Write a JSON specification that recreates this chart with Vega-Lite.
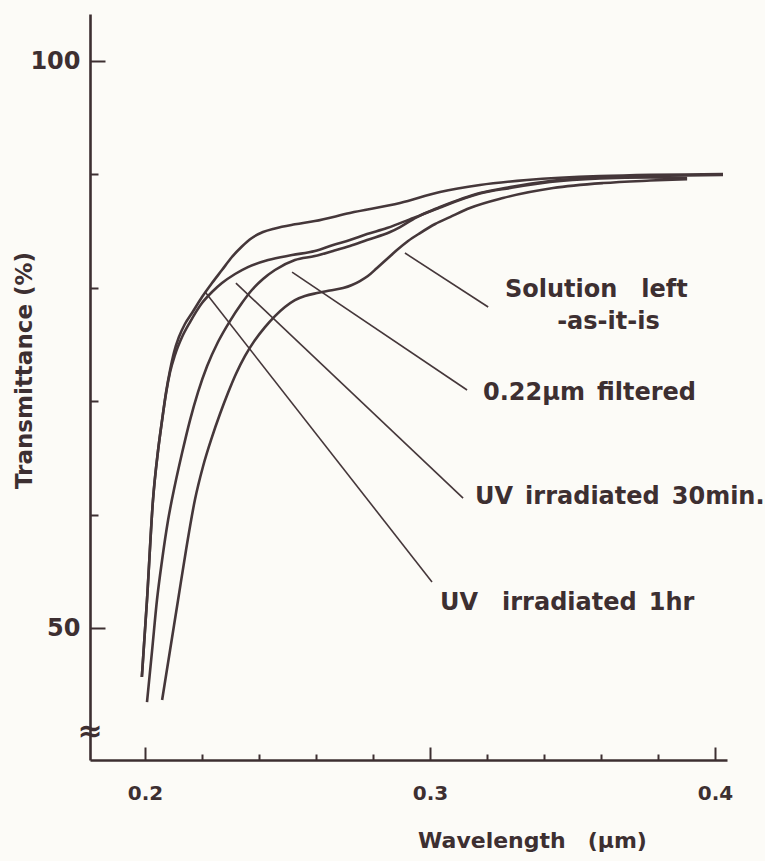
{
  "$schema": "https://vega.github.io/schema/vega-lite/v6.json",
  "width": 637,
  "height": 746,
  "autosize": {"type": "none"},
  "padding": {"left": 90, "top": 14, "right": 38, "bottom": 101},
  "background": "#fcfbf7",
  "config": {"view": {"stroke": null}, "font": "DejaVu Sans"},
  "datasets": {
    "curves": [
      {"series": "UV irradiated 1hr", "wavelength": 0.1989, "T": 45.68},
      {"series": "UV irradiated 1hr", "wavelength": 0.2007, "T": 52.47},
      {"series": "UV irradiated 1hr", "wavelength": 0.2028, "T": 61.29},
      {"series": "UV irradiated 1hr", "wavelength": 0.2046, "T": 65.70},
      {"series": "UV irradiated 1hr", "wavelength": 0.2060, "T": 68.34},
      {"series": "UV irradiated 1hr", "wavelength": 0.2074, "T": 70.81},
      {"series": "UV irradiated 1hr", "wavelength": 0.2088, "T": 72.75},
      {"series": "UV irradiated 1hr", "wavelength": 0.2102, "T": 74.34},
      {"series": "UV irradiated 1hr", "wavelength": 0.2119, "T": 75.66},
      {"series": "UV irradiated 1hr", "wavelength": 0.2140, "T": 76.81},
      {"series": "UV irradiated 1hr", "wavelength": 0.2165, "T": 77.78},
      {"series": "UV irradiated 1hr", "wavelength": 0.2200, "T": 79.19},
      {"series": "UV irradiated 1hr", "wavelength": 0.2235, "T": 80.42},
      {"series": "UV irradiated 1hr", "wavelength": 0.2270, "T": 81.57},
      {"series": "UV irradiated 1hr", "wavelength": 0.2305, "T": 82.72},
      {"series": "UV irradiated 1hr", "wavelength": 0.2340, "T": 83.65},
      {"series": "UV irradiated 1hr", "wavelength": 0.2375, "T": 84.40},
      {"series": "UV irradiated 1hr", "wavelength": 0.2414, "T": 84.92},
      {"series": "UV irradiated 1hr", "wavelength": 0.2456, "T": 85.24},
      {"series": "UV irradiated 1hr", "wavelength": 0.2526, "T": 85.60},
      {"series": "UV irradiated 1hr", "wavelength": 0.2596, "T": 85.89},
      {"series": "UV irradiated 1hr", "wavelength": 0.2719, "T": 86.60},
      {"series": "UV irradiated 1hr", "wavelength": 0.2895, "T": 87.48},
      {"series": "UV irradiated 1hr", "wavelength": 0.3035, "T": 88.45},
      {"series": "UV irradiated 1hr", "wavelength": 0.3175, "T": 89.07},
      {"series": "UV irradiated 1hr", "wavelength": 0.3340, "T": 89.51},
      {"series": "UV irradiated 1hr", "wavelength": 0.3596, "T": 89.86},
      {"series": "UV irradiated 1hr", "wavelength": 0.4028, "T": 90.04},

      {"series": "UV irradiated 30min.", "wavelength": 0.1989, "T": 45.68},
      {"series": "UV irradiated 30min.", "wavelength": 0.2007, "T": 52.47},
      {"series": "UV irradiated 30min.", "wavelength": 0.2028, "T": 61.29},
      {"series": "UV irradiated 30min.", "wavelength": 0.2046, "T": 65.70},
      {"series": "UV irradiated 30min.", "wavelength": 0.2060, "T": 68.34},
      {"series": "UV irradiated 30min.", "wavelength": 0.2074, "T": 70.72},
      {"series": "UV irradiated 30min.", "wavelength": 0.2088, "T": 72.57},
      {"series": "UV irradiated 30min.", "wavelength": 0.2105, "T": 74.07},
      {"series": "UV irradiated 30min.", "wavelength": 0.2130, "T": 75.66},
      {"series": "UV irradiated 30min.", "wavelength": 0.2158, "T": 76.98},
      {"series": "UV irradiated 30min.", "wavelength": 0.2200, "T": 78.66},
      {"series": "UV irradiated 30min.", "wavelength": 0.2235, "T": 79.63},
      {"series": "UV irradiated 30min.", "wavelength": 0.2270, "T": 80.42},
      {"series": "UV irradiated 30min.", "wavelength": 0.2316, "T": 81.22},
      {"series": "UV irradiated 30min.", "wavelength": 0.2361, "T": 81.83},
      {"series": "UV irradiated 30min.", "wavelength": 0.2432, "T": 82.45},
      {"series": "UV irradiated 30min.", "wavelength": 0.2516, "T": 82.89},
      {"series": "UV irradiated 30min.", "wavelength": 0.2596, "T": 83.25},
      {"series": "UV irradiated 30min.", "wavelength": 0.2660, "T": 83.78},
      {"series": "UV irradiated 30min.", "wavelength": 0.2719, "T": 84.22},
      {"series": "UV irradiated 30min.", "wavelength": 0.2779, "T": 84.74},
      {"series": "UV irradiated 30min.", "wavelength": 0.2849, "T": 85.27},
      {"series": "UV irradiated 30min.", "wavelength": 0.2895, "T": 85.71},
      {"series": "UV irradiated 30min.", "wavelength": 0.2951, "T": 86.24},
      {"series": "UV irradiated 30min.", "wavelength": 0.3035, "T": 87.13},
      {"series": "UV irradiated 30min.", "wavelength": 0.3175, "T": 88.36},
      {"series": "UV irradiated 30min.", "wavelength": 0.3281, "T": 88.89},
      {"series": "UV irradiated 30min.", "wavelength": 0.3421, "T": 89.42},
      {"series": "UV irradiated 30min.", "wavelength": 0.3596, "T": 89.73},
      {"series": "UV irradiated 30min.", "wavelength": 0.3772, "T": 89.86},
      {"series": "UV irradiated 30min.", "wavelength": 0.4028, "T": 89.95},

      {"series": "0.22µm filtered", "wavelength": 0.2007, "T": 43.47},
      {"series": "0.22µm filtered", "wavelength": 0.2025, "T": 48.06},
      {"series": "0.22µm filtered", "wavelength": 0.2042, "T": 52.47},
      {"series": "0.22µm filtered", "wavelength": 0.2060, "T": 56.00},
      {"series": "0.22µm filtered", "wavelength": 0.2081, "T": 59.52},
      {"series": "0.22µm filtered", "wavelength": 0.2105, "T": 62.61},
      {"series": "0.22µm filtered", "wavelength": 0.2130, "T": 65.43},
      {"series": "0.22µm filtered", "wavelength": 0.2158, "T": 68.34},
      {"series": "0.22µm filtered", "wavelength": 0.2186, "T": 70.81},
      {"series": "0.22µm filtered", "wavelength": 0.2218, "T": 73.10},
      {"series": "0.22µm filtered", "wavelength": 0.2256, "T": 75.22},
      {"series": "0.22µm filtered", "wavelength": 0.2298, "T": 77.07},
      {"series": "0.22µm filtered", "wavelength": 0.2340, "T": 78.66},
      {"series": "0.22µm filtered", "wavelength": 0.2375, "T": 79.81},
      {"series": "0.22µm filtered", "wavelength": 0.2414, "T": 80.78},
      {"series": "0.22µm filtered", "wavelength": 0.2456, "T": 81.57},
      {"series": "0.22µm filtered", "wavelength": 0.2526, "T": 82.45},
      {"series": "0.22µm filtered", "wavelength": 0.2596, "T": 82.80},
      {"series": "0.22µm filtered", "wavelength": 0.2660, "T": 83.25},
      {"series": "0.22µm filtered", "wavelength": 0.2719, "T": 83.69},
      {"series": "0.22µm filtered", "wavelength": 0.2779, "T": 84.22},
      {"series": "0.22µm filtered", "wavelength": 0.2860, "T": 84.92},
      {"series": "0.22µm filtered", "wavelength": 0.2895, "T": 85.36},
      {"series": "0.22µm filtered", "wavelength": 0.2951, "T": 86.20},
      {"series": "0.22µm filtered", "wavelength": 0.3035, "T": 87.08},
      {"series": "0.22µm filtered", "wavelength": 0.3175, "T": 88.32},
      {"series": "0.22µm filtered", "wavelength": 0.3281, "T": 88.80},
      {"series": "0.22µm filtered", "wavelength": 0.3421, "T": 89.33},
      {"series": "0.22µm filtered", "wavelength": 0.3596, "T": 89.64},
      {"series": "0.22µm filtered", "wavelength": 0.3772, "T": 89.73},
      {"series": "0.22µm filtered", "wavelength": 0.3902, "T": 89.68},

      {"series": "Solution left -as-it-is", "wavelength": 0.2060, "T": 43.65},
      {"series": "Solution left -as-it-is", "wavelength": 0.2088, "T": 48.06},
      {"series": "Solution left -as-it-is", "wavelength": 0.2116, "T": 52.47},
      {"series": "Solution left -as-it-is", "wavelength": 0.2144, "T": 56.88},
      {"series": "Solution left -as-it-is", "wavelength": 0.2175, "T": 61.29},
      {"series": "Solution left -as-it-is", "wavelength": 0.2204, "T": 64.29},
      {"series": "Solution left -as-it-is", "wavelength": 0.2235, "T": 66.84},
      {"series": "Solution left -as-it-is", "wavelength": 0.2263, "T": 68.87},
      {"series": "Solution left -as-it-is", "wavelength": 0.2291, "T": 70.72},
      {"series": "Solution left -as-it-is", "wavelength": 0.2319, "T": 72.40},
      {"series": "Solution left -as-it-is", "wavelength": 0.2351, "T": 73.99},
      {"series": "Solution left -as-it-is", "wavelength": 0.2386, "T": 75.40},
      {"series": "Solution left -as-it-is", "wavelength": 0.2421, "T": 76.54},
      {"series": "Solution left -as-it-is", "wavelength": 0.2456, "T": 77.51},
      {"series": "Solution left -as-it-is", "wavelength": 0.2491, "T": 78.31},
      {"series": "Solution left -as-it-is", "wavelength": 0.2526, "T": 78.92},
      {"series": "Solution left -as-it-is", "wavelength": 0.2561, "T": 79.28},
      {"series": "Solution left -as-it-is", "wavelength": 0.2604, "T": 79.54},
      {"series": "Solution left -as-it-is", "wavelength": 0.2649, "T": 79.76},
      {"series": "Solution left -as-it-is", "wavelength": 0.2695, "T": 79.98},
      {"series": "Solution left -as-it-is", "wavelength": 0.2726, "T": 80.25},
      {"series": "Solution left -as-it-is", "wavelength": 0.2754, "T": 80.60},
      {"series": "Solution left -as-it-is", "wavelength": 0.2782, "T": 81.04},
      {"series": "Solution left -as-it-is", "wavelength": 0.2814, "T": 81.75},
      {"series": "Solution left -as-it-is", "wavelength": 0.2849, "T": 82.54},
      {"series": "Solution left -as-it-is", "wavelength": 0.2884, "T": 83.33},
      {"series": "Solution left -as-it-is", "wavelength": 0.2923, "T": 84.13},
      {"series": "Solution left -as-it-is", "wavelength": 0.2965, "T": 84.83},
      {"series": "Solution left -as-it-is", "wavelength": 0.3018, "T": 85.63},
      {"series": "Solution left -as-it-is", "wavelength": 0.3070, "T": 86.24},
      {"series": "Solution left -as-it-is", "wavelength": 0.3140, "T": 87.04},
      {"series": "Solution left -as-it-is", "wavelength": 0.3256, "T": 87.92},
      {"series": "Solution left -as-it-is", "wavelength": 0.3432, "T": 88.80},
      {"series": "Solution left -as-it-is", "wavelength": 0.3607, "T": 89.24},
      {"series": "Solution left -as-it-is", "wavelength": 0.3772, "T": 89.46},
      {"series": "Solution left -as-it-is", "wavelength": 0.3902, "T": 89.59}
    ],
    "leaders": [
      {"series": "Solution left -as-it-is", "x1": 0.2912, "y1": 83.07, "x2": 0.3204, "y2": 78.31},
      {"series": "0.22µm filtered", "x1": 0.2516, "y1": 81.39, "x2": 0.3130, "y2": 70.99},
      {"series": "UV irradiated 30min.", "x1": 0.2319, "y1": 80.42, "x2": 0.3116, "y2": 61.46},
      {"series": "UV irradiated 1hr", "x1": 0.2211, "y1": 79.63, "x2": 0.3007, "y2": 54.06}
    ],
    "labels": [
      {"text": "Solution\u2003left", "x": 0.3263, "y": 79.81},
      {"text": "-as-it-is", "x": 0.3446, "y": 76.98},
      {"text": "0.22µm\u2002filtered", "x": 0.3186, "y": 70.72},
      {"text": "UV\u2002irradiated\u200230min.", "x": 0.3158, "y": 61.55},
      {"text": "UV\u2003irradiated\u20021hr", "x": 0.3035, "y": 52.2}
    ],
    "axisbreak": [
      {"text": "≈", "x": 0.1807, "y": 40.8}
    ]
  },
  "layer": [
    {
      "data": {"name": "curves"},
      "mark": {"type": "line", "interpolate": "monotone", "strokeWidth": 2.6, "color": "#45373a"},
      "encoding": {
        "x": {
          "field": "wavelength", "type": "quantitative",
          "scale": {"domain": [0.1807, 0.4042], "nice": false, "zero": false},
          "axis": {
            "values": [0.2, 0.22, 0.24, 0.26, 0.28, 0.3, 0.32, 0.34, 0.36, 0.38, 0.4],
            "labelExpr": "abs(datum.value*10 - round(datum.value*10)) < 0.001 ? format(datum.value, '.1f') : ''",
            "grid": false,
            "ticks": true,
            "tickSize": {"condition": {"test": "abs(datum.value*10 - round(datum.value*10)) < 0.001", "value": -13}, "value": -6},
            "tickWidth": 2,
            "tickColor": "#3d2f31",
            "domainColor": "#3d2f31",
            "domainWidth": 2.6,
            "labelFont": "DejaVu Sans",
            "labelFontSize": 20,
            "labelFontWeight": "bold",
            "labelColor": "#3d2f31",
            "labelPadding": 36,
            "labelFlush": false,
            "title": "Wavelength\u2003(µm)",
            "titleFont": "DejaVu Sans",
            "titleFontSize": 22,
            "titleFontWeight": "bold",
            "titleColor": "#3d2f31",
            "titleX": 442,
            "titleY": 80,
            "titleAlign": "center",
            "titleBaseline": "middle"
          }
        },
        "y": {
          "field": "T", "type": "quantitative",
          "scale": {"domain": [38.36, 104.15], "nice": false, "zero": false},
          "axis": {
            "values": [50, 60, 70, 80, 90, 100],
            "labelExpr": "datum.value % 50 === 0 ? datum.label : ''",
            "grid": false,
            "ticks": true,
            "tickSize": {"condition": {"test": "datum.value % 50 === 0", "value": -15}, "value": -8},
            "tickWidth": 2,
            "tickColor": "#3d2f31",
            "domainColor": "#3d2f31",
            "domainWidth": 2.6,
            "labelFont": "DejaVu Sans",
            "labelFontSize": 24,
            "labelFontWeight": "bold",
            "labelColor": "#3d2f31",
            "labelPadding": 25,
            "labelFlush": false,
            "title": "Transmittance (%)",
            "titleFont": "DejaVu Sans",
            "titleFontSize": 23,
            "titleFontWeight": "bold",
            "titleColor": "#3d2f31",
            "titleX": -66,
            "titleY": 356,
            "titleAlign": "center",
            "titleBaseline": "middle"
          }
        },
        "detail": {"field": "series"}
      }
    },
    {
      "data": {"name": "leaders"},
      "mark": {"type": "rule", "strokeWidth": 1.6, "color": "#45373a"},
      "encoding": {
        "x": {"field": "x1", "type": "quantitative"},
        "x2": {"field": "x2"},
        "y": {"field": "y1", "type": "quantitative"},
        "y2": {"field": "y2"}
      }
    },
    {
      "data": {"name": "labels"},
      "mark": {"type": "text", "align": "left", "baseline": "middle", "font": "DejaVu Sans", "fontSize": 24, "fontWeight": "bold", "color": "#3d2f31"},
      "encoding": {
        "x": {"field": "x", "type": "quantitative"},
        "y": {"field": "y", "type": "quantitative"},
        "text": {"field": "text"}
      }
    },
    {
      "data": {"name": "axisbreak"},
      "mark": {"type": "text", "align": "center", "baseline": "middle", "font": "DejaVu Sans", "fontSize": 30, "fontWeight": "bold", "color": "#3d2f31", "clip": false},
      "encoding": {
        "x": {"field": "x", "type": "quantitative"},
        "y": {"field": "y", "type": "quantitative"},
        "text": {"field": "text"}
      }
    }
  ]
}
